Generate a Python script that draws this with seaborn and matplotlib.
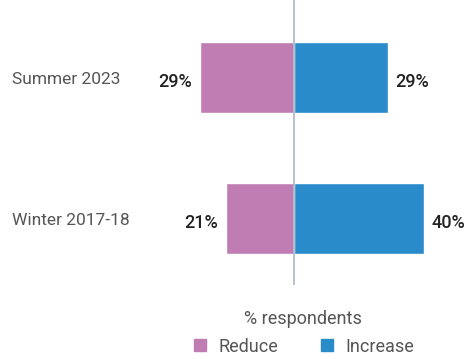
import matplotlib
matplotlib.use("Agg")
import matplotlib.pyplot as plt
from matplotlib.lines import Line2D
import seaborn as sns
import pandas as pd

periods = ["Summer 2023", "Winter 2017-18"]
reduce_pct = [29, 21]
increase_pct = [29, 40]

REDUCE_COLOR = "#BF7DB3"
INCREASE_COLOR = "#2A8BCB"

sns.set_theme(style="white")
plt.rcParams["font.family"] = ["Roboto", "DejaVu Sans"]

df = pd.DataFrame({"period": periods, "reduce": reduce_pct, "increase": increase_pct})
df["reduce_neg"] = -df["reduce"]

fig = plt.figure(figsize=(4.66, 3.59), dpi=100)
W, H = 466, 359
# axes placed in pixel terms: zero line at x=294
left_px, right_px, top_px, bottom_px = 150, 462, 0, 285
ax = fig.add_axes([left_px / W, 1 - bottom_px / H, (right_px - left_px) / W, (bottom_px - top_px) / H])

sns.barplot(data=df, x="reduce_neg", y="period", color=REDUCE_COLOR, width=0.5,
            orient="h", ax=ax, saturation=1)
sns.barplot(data=df, x="increase", y="period", color=INCREASE_COLOR, width=0.5,
            orient="h", ax=ax, saturation=1)

scale = 3.25  # px per percent
ax.set_xlim(-(294 - left_px) / scale, (right_px - 294) / scale)
ax.set_ylim(1.47, -0.55)
ax.axvline(0, color="#A9B7C4", lw=1.2, zorder=5)

for i, (r, inc) in enumerate(zip(reduce_pct, increase_pct)):
    ax.text(-r - 2.4, i + 0.03, f"{r}%", ha="right", va="center",
            fontsize=13, color="#222222", fontweight="medium")
    ax.text(inc + 2.2, i + 0.03, f"{inc}%", ha="left", va="center",
            fontsize=13, color="#222222", fontweight="medium")

ax.set_xlabel("")
ax.set_ylabel("")
ax.set_xticks([])
ax.set_yticks([])
for s in ax.spines.values():
    s.set_visible(False)

for i, p in enumerate(periods):
    ax.text(-(294 - 12) / scale, i + 0.01, p, ha="left", va="center", fontsize=12.5,
            color="#555555", clip_on=False)

handles = [
    Line2D([0], [0], marker="s", linestyle="none", markersize=9,
           markerfacecolor=REDUCE_COLOR, markeredgecolor=REDUCE_COLOR, label="Reduce"),
    Line2D([0], [0], marker="s", linestyle="none", markersize=9,
           markerfacecolor=INCREASE_COLOR, markeredgecolor=INCREASE_COLOR, label="Increase"),
]
leg = fig.legend(handles=handles, title="% respondents", ncol=2, frameon=False,
                 loc="center", bbox_to_anchor=(302.5 / W, 1 - 333 / H),
                 fontsize=13, title_fontsize=13, handletextpad=0.5,
                 columnspacing=2.2, handlelength=1.0)
for t in leg.get_texts():
    t.set_color("#555555")
leg.get_title().set_color("#555555")

fig.savefig("out.png", dpi=100)
